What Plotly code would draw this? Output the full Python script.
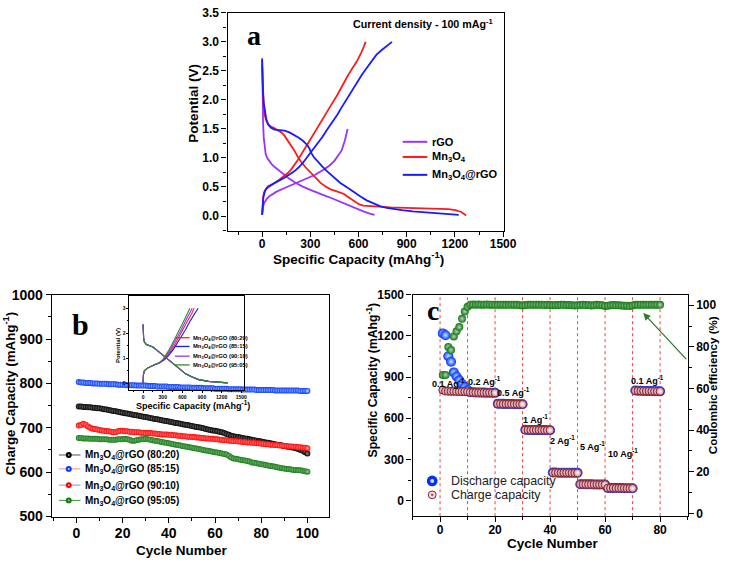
import plotly.graph_objects as go

W, H = 733, 566
def px(x): return x / W
def py(y): return 1 - y / H

FONT = "Liberation Sans, Arial, sans-serif"
SERIF = "Liberation Serif, Times New Roman, serif"

# ---------------- Panel a : voltage profiles ----------------
rgo_dis_cap = [0, 1, 3, 6, 10, 15, 22, 32, 45, 60, 80, 105, 135, 170, 210, 250, 300, 350, 390, 430, 480, 530, 580, 630, 670, 700]
rgo_dis_v = [2.72, 2.3, 1.9, 1.6, 1.35, 1.18, 1.07, 1.0, 0.94, 0.89, 0.84, 0.78, 0.71, 0.64, 0.57, 0.51, 0.45, 0.39, 0.35, 0.31, 0.25, 0.19, 0.13, 0.08, 0.04, 0.02]
rgo_chg_cap = [0, 2, 6, 12, 20, 30, 45, 65, 90, 130, 180, 230, 280, 330, 385, 420, 450, 475, 495, 515, 532]
rgo_chg_v = [0.03, 0.1, 0.17, 0.22, 0.26, 0.3, 0.34, 0.38, 0.42, 0.47, 0.53, 0.58, 0.64, 0.71, 0.8, 0.87, 0.95, 1.04, 1.13, 1.3, 1.5]

mn_dis_cap = [0, 2, 5, 10, 16, 25, 37, 55, 78, 100, 120, 140, 160, 180, 200, 220, 241, 270, 303, 335, 364, 395, 426, 460, 487, 510, 528, 555, 579, 605, 630, 680, 733, 800, 896, 1000, 1101, 1160, 1203, 1240, 1270]
mn_dis_v = [2.6, 2.35, 2.1, 1.88, 1.74, 1.65, 1.58, 1.54, 1.51, 1.48, 1.44, 1.38, 1.3, 1.22, 1.13, 1.03, 0.94, 0.84, 0.74, 0.65, 0.57, 0.51, 0.46, 0.43, 0.41, 0.38, 0.34, 0.29, 0.24, 0.2, 0.18, 0.17, 0.16, 0.15, 0.14, 0.135, 0.13, 0.12, 0.1, 0.07, 0.01]
mn_chg_cap = [0, 3, 7, 12, 20, 37, 55, 78, 105, 139, 160, 180, 200, 221, 250, 282, 313, 344, 375, 405, 436, 467, 497, 528, 558, 589, 615, 635, 645]
mn_chg_v = [0.02, 0.2, 0.33, 0.41, 0.45, 0.49, 0.53, 0.57, 0.62, 0.69, 0.74, 0.8, 0.87, 0.96, 1.09, 1.24, 1.38, 1.52, 1.66, 1.8, 1.94, 2.08, 2.24, 2.39, 2.53, 2.66, 2.8, 2.92, 3.0]

mg_dis_cap = [0, 2, 5, 10, 16, 25, 37, 55, 78, 110, 139, 170, 200, 228, 252, 270, 282, 295, 303, 320, 344, 375, 405, 445, 487, 530, 569, 610, 651, 690, 733, 775, 814, 870, 937, 1020, 1101, 1160, 1224]
mg_dis_v = [2.7, 2.4, 2.15, 1.95, 1.8, 1.68, 1.58, 1.52, 1.49, 1.48, 1.47, 1.44, 1.40, 1.35, 1.30, 1.26, 1.22, 1.16, 1.10, 1.02, 0.94, 0.85, 0.77, 0.67, 0.57, 0.49, 0.41, 0.34, 0.27, 0.22, 0.17, 0.14, 0.12, 0.1, 0.08, 0.065, 0.055, 0.04, 0.02]
mg_chg_cap = [0, 3, 8, 16, 25, 37, 55, 78, 105, 139, 170, 200, 228, 252, 282, 313, 344, 375, 405, 436, 467, 497, 528, 558, 589, 620, 651, 682, 712, 745, 774, 795, 808]
mg_chg_v = [0.02, 0.22, 0.33, 0.41, 0.47, 0.51, 0.54, 0.57, 0.61, 0.66, 0.71, 0.77, 0.84, 0.91, 1.02, 1.13, 1.24, 1.36, 1.49, 1.61, 1.74, 1.88, 2.02, 2.16, 2.30, 2.43, 2.55, 2.67, 2.78, 2.86, 2.92, 2.97, 3.0]

a_names = ["rGO", "Mn<sub>3</sub>O<sub>4</sub>", "Mn<sub>3</sub>O<sub>4</sub>@rGO"]
a_colors = ["#9933ff", "#ff1a1a", "#1a1aff"]

# ---------------- Panel b : cycling ----------------
cycles_b = list(range(1, 101))
cap_80_20 = [748, 748, 747, 747, 746, 746, 745, 745, 744, 744,
             743, 742, 741, 740, 739, 738, 737, 736, 735, 734,
             733, 732, 731, 730, 729, 728, 727, 726, 725, 724,
             723, 722, 721, 720, 719, 718, 717, 716, 715, 714,
             713, 712, 711, 710, 709, 708, 707, 706, 705, 704,
             703, 702, 701, 700, 699, 697, 696, 695, 694, 693,
             692, 691, 690, 688, 686, 684, 682, 681, 680, 679,
             678, 677, 676, 675, 674, 673, 672, 671, 670, 669,
             668, 667, 666, 665, 664, 663, 662, 661, 660, 659,
             658, 657, 656, 655, 654, 652, 650, 648, 645, 642]
cap_85_15 = [803, 802, 802, 801, 801, 801, 800, 800, 800, 799,
             799, 799, 799, 798, 798, 798, 798, 797, 797, 797,
             797, 796, 796, 796, 796, 795, 795, 795, 795, 795,
             794, 794, 794, 794, 793, 793, 793, 793, 793, 792,
             792, 792, 792, 792, 791, 791, 791, 791, 791, 790,
             790, 790, 790, 790, 789, 789, 789, 789, 789, 788,
             788, 788, 788, 788, 788, 787, 787, 787, 787, 787,
             787, 786, 786, 786, 786, 786, 786, 785, 785, 785,
             785, 785, 785, 785, 785, 784, 784, 784, 784, 784,
             784, 784, 784, 784, 784, 784, 783, 783, 783, 783]
cap_90_10 = [705, 706, 709, 707, 703, 700, 698, 697, 696, 695,
             694, 693, 692, 692, 691, 690, 690, 692, 693, 693,
             692, 692, 691, 691, 690, 690, 690, 689, 689, 688,
             688, 688, 687, 687, 686, 686, 685, 685, 685, 684,
             684, 683, 683, 682, 682, 681, 681, 680, 680, 679,
             679, 678, 678, 677, 677, 676, 676, 675, 675, 674,
             674, 673, 673, 672, 672, 671, 671, 670, 670, 669,
             669, 668, 668, 667, 667, 666, 666, 665, 665, 664,
             664, 663, 663, 662, 662, 661, 661, 660, 660, 659,
             659, 658, 658, 657, 657, 656, 656, 655, 655, 654]
cap_95_05 = [677, 677, 676, 676, 676, 675, 675, 675, 675, 674,
             674, 674, 674, 673, 673, 673, 673, 674, 674, 674,
             675, 674, 673, 671, 671, 672, 673, 674, 674, 675,
             674, 673, 672, 671, 670, 669, 668, 667, 666, 665,
             664, 663, 662, 661, 660, 659, 658, 657, 656, 655,
             654, 653, 652, 651, 650, 649, 648, 647, 646, 645,
             644, 643, 642, 641, 640, 637, 633, 631, 630, 629,
             628, 627, 626, 625, 624, 622, 621, 620, 619, 618,
             617, 616, 615, 614, 613, 612, 611, 610, 609, 608,
             607, 607, 606, 605, 605, 604, 604, 603, 602, 601]
b_labels = ["Mn<sub>3</sub>O<sub>4</sub>@rGO (80:20)", "Mn<sub>3</sub>O<sub>4</sub>@rGO (85:15)",
            "Mn<sub>3</sub>O<sub>4</sub>@rGO (90:10)", "Mn<sub>3</sub>O<sub>4</sub>@rGO (95:05)"]

# inset of panel b
ins_chg_v = [0.0, 0.35, 0.5, 0.6, 0.7, 0.82, 0.95, 1.1, 1.35, 1.6, 1.85, 2.15, 2.5, 2.8, 3.0]
ins_chg_cap_80 = [0, 5, 20, 60, 140, 250, 320, 370, 440, 495, 550, 615, 680, 745, 780]
ins_chg_cap_85 = [0, 5, 20, 60, 140, 255, 330, 385, 460, 520, 580, 650, 720, 790, 840]
ins_chg_cap_90 = [0, 5, 20, 60, 140, 245, 310, 355, 420, 470, 525, 585, 650, 710, 750]
ins_chg_cap_95 = [0, 5, 20, 60, 140, 240, 300, 340, 400, 450, 500, 560, 620, 680, 714]
ins_dis_cap = [0, 3, 8, 20, 50, 100, 150, 200, 270, 350, 450, 550, 650, 750, 850, 1000, 1150, 1290]
ins_dis_v = [2.35, 2.0, 1.8, 1.65, 1.55, 1.5, 1.45, 1.35, 1.2, 1.0, 0.78, 0.57, 0.38, 0.25, 0.15, 0.08, 0.04, 0.02]
ins_colors = ["#ff2020", "#1a1aff", "#9933ff", "#2e8b2e"]
ins_labels = ["Mn<sub>3</sub>O<sub>4</sub>@rGO (80:20)", "Mn<sub>3</sub>O<sub>4</sub>@rGO (85:15)",
              "Mn<sub>3</sub>O<sub>4</sub>@rGO (90:10)", "Mn<sub>3</sub>O<sub>4</sub>@rGO (95:05)"]

# ---------------- Panel c : rate capability ----------------
cycles_c = list(range(1, 81))
discharge = [1218, 1205, 1052, 1012, 934, 904, 876, 850, 827, 806,
             790, 789, 788, 788, 787, 787, 786, 786, 786, 785,
             706, 705, 705, 704, 704, 704, 703, 703, 703, 702,
             516, 515, 515, 515, 514, 514, 514, 514, 513, 513,
             205, 205, 204, 204, 204, 204, 203, 203, 203, 203,
             120, 120, 119, 119, 119, 118, 118, 118, 118, 117,
             93, 93, 92, 92, 92, 92, 91, 91, 91, 91,
             802, 800, 800, 799, 799, 798, 798, 797, 797, 796]
charge = [806, 798, 797, 796, 796, 795, 795, 794, 794, 793,
          789, 788, 788, 787, 787, 786, 786, 786, 785, 785,
          705, 705, 704, 704, 704, 703, 703, 703, 702, 702,
          515, 515, 514, 514, 514, 514, 513, 513, 513, 513,
          204, 204, 204, 203, 203, 203, 203, 202, 202, 202,
          119, 119, 119, 118, 118, 118, 118, 117, 117, 117,
          92, 92, 92, 91, 91, 91, 91, 90, 90, 90,
          801, 800, 799, 799, 798, 798, 797, 797, 796, 796]
coulombic = [66.5, 66.5, 80.0, 78.5, 85.0, 87.5, 89.5, 93.5, 97.0, 99.3,
             100.3, 100.4, 100.3, 100.4, 100.3, 100.3, 100.4, 100.3, 100.3, 100.2,
             100.2, 100.3, 100.3, 100.2, 100.2, 100.3, 100.3, 100.2, 100.0, 99.9,
             100.1, 100.2, 100.2, 100.3, 100.3, 100.2, 100.2, 100.1, 100.2, 100.1,
             100.0, 100.1, 100.1, 100.2, 100.2, 100.1, 100.1, 100.0, 99.9, 100.0,
             100.1, 100.2, 100.1, 100.1, 99.9, 100.0, 100.2, 100.1, 100.0, 99.7,
             99.8, 100.0, 100.1, 100.0, 100.0, 99.9, 99.8, 99.8, 99.6, 99.9,
             100.2, 100.2, 100.3, 100.2, 100.2, 100.3, 100.2, 100.2, 100.3, 100.2]
rate_boundaries = [0, 10, 20, 30, 40, 50, 60, 70, 80]
rate_labels = ["0.1 Ag<sup>-1</sup>", "0.2 Ag<sup>-1</sup>", "0.5 Ag<sup>-1</sup>", "1 Ag<sup>-1</sup>",
               "2 Ag<sup>-1</sup>", "5 Ag<sup>-1</sup>", "10 Ag<sup>-1</sup>", "0.1 Ag<sup>-1</sup>"]
rate_label_x = [3.1, 16.3, 26.7, 34.6, 44.6, 55.4, 66.4, 75.4]
rate_label_y = [858, 870, 788, 597, 439, 398, 349, 880]

# ======================================================================
fig = go.Figure()

def lt(x, y, color, xa, ya, width=1.8):
    return go.Scatter(x=x, y=y, mode="lines", line=dict(color=color, width=width),
                      xaxis=xa, yaxis=ya, showlegend=False, hoverinfo="skip")

# panel a
fig.add_trace(lt(rgo_dis_cap, rgo_dis_v, a_colors[0], "x", "y"))
fig.add_trace(lt(rgo_chg_cap, rgo_chg_v, a_colors[0], "x", "y"))
fig.add_trace(lt(mn_dis_cap, mn_dis_v, a_colors[1], "x", "y"))
fig.add_trace(lt(mn_chg_cap, mn_chg_v, a_colors[1], "x", "y"))
fig.add_trace(lt(mg_dis_cap, mg_dis_v, a_colors[2], "x", "y"))
fig.add_trace(lt(mg_chg_cap, mg_chg_v, a_colors[2], "x", "y"))

# inset
ins_caps = [ins_chg_cap_80, ins_chg_cap_85, ins_chg_cap_90, ins_chg_cap_95]
for caps, col in zip(ins_caps, ins_colors):
    fig.add_trace(lt(caps, ins_chg_v, col, "x5", "y5", width=1.1))
    fig.add_trace(lt(ins_dis_cap, ins_dis_v, col, "x5", "y5", width=1.1))

# panel b
b_series = [cap_80_20, cap_85_15, cap_90_10, cap_95_05]
b_edge = ["#000000", "#1030ff", "#ff0000", "#157a15"]
b_center = ["#8a8a8a", "#a8f4ff", "#ffb0b0", "#9cc89c"]
for ser, ec, cc in zip(b_series, b_edge, b_center):
    fig.add_trace(go.Scatter(x=cycles_b, y=ser, mode="lines+markers", xaxis="x2", yaxis="y2",
                             line=dict(color=ec, width=1),
                             marker=dict(size=6, color=ec, gradient=dict(type="radial", color=cc)),
                             showlegend=False, hoverinfo="skip"))

# panel c
fig.add_trace(go.Scatter(x=cycles_c, y=discharge, mode="markers", xaxis="x3", yaxis="y3",
                         marker=dict(size=10, color="#0a2cff", gradient=dict(type="radial", color="#b8f6ff")),
                         showlegend=False, hoverinfo="skip"))
fig.add_trace(go.Scatter(x=cycles_c, y=charge, mode="markers", xaxis="x3", yaxis="y3",
                         marker=dict(size=8, color="#c98890", gradient=dict(type="radial", color="#ffffff"),
                                     line=dict(color="#86202e", width=1)),
                         showlegend=False, hoverinfo="skip"))
fig.add_trace(go.Scatter(x=cycles_c, y=coulombic, mode="markers", xaxis="x3", yaxis="y4",
                         marker=dict(size=8, color="#0b7a0b", gradient=dict(type="radial", color="#c4ccc4")),
                         showlegend=False, hoverinfo="skip"))

# ---------------- axes ----------------
def axis(domain, rng, dtick, minor, size, anchor, fmt=None, lw=1.3, tl=5, mirror=True, **kw):
    d = dict(range=rng, anchor=anchor, tickmode="linear", tick0=0, dtick=dtick,
             ticks="outside", ticklen=tl, tickwidth=lw, tickcolor="black",
             showline=True, linecolor="black", linewidth=lw, mirror=mirror,
             showgrid=False, zeroline=False,
             tickfont=dict(family=FONT, size=size, color="black", weight="bold"),
             minor=dict(dtick=minor, ticks="outside", ticklen=max(1, tl * 0.6), tickwidth=lw,
                        tickcolor="black", showgrid=False))
    if domain is not None:
        d["domain"] = domain
    if fmt:
        d["tickformat"] = fmt
    d.update(kw)
    return d

fig.update_layout(
    xaxis=axis([px(231.7), px(513)], [-215, 1505], 300, 150, 12, "y", ticklabelstandoff=-3),
    yaxis=axis([py(229), py(5)], [-0.25, 3.5], 0.5, 0.25, 12, "x", fmt=".1f"),
    xaxis2=axis([px(52.7), px(335)], [-10.7, 109.4], 20, 10, 14, "y2", ticklabelstandoff=-1),
    yaxis2=axis([py(523.3), py(295)], [500, 1000], 100, 50, 14, "x2"),
    xaxis3=axis([px(420), px(700)], [-10, 90], 20, 10, 12, "y3", ticklabelstandoff=-3),
    yaxis3=axis([py(523), py(295)], [-113, 1500], 300, 150, 12, "x3"),
    yaxis4=axis(None, [-1.4, 105.1], 20, 10, 12, "x3", mirror=False, side="right", overlaying="y3"),
    xaxis5=axis([px(131.7), px(248.3)], [-210, 1540], 300, 150, 5, "y5", lw=0.8, tl=2),
    yaxis5=axis([py(393.5), py(296.7)], [-0.28, 3.48], 1, 0.5, 5, "x5", lw=0.8, tl=2),
)

# ---------------- shapes ----------------
shapes = []
for xb in rate_boundaries:
    shapes.append(dict(type="line", xref="x3", yref="y3 domain", x0=xb, x1=xb, y0=0, y1=1,
                       line=dict(color="#ff3b3b", width=1, dash="dot"), layer="below"))

a_rows = [137.7, 153.3, 171.7]
for col, yy in zip(a_colors, a_rows):
    shapes.append(dict(type="line", xref="paper", yref="paper", x0=px(410), x1=px(435), y0=py(yy), y1=py(yy),
                       line=dict(color=col, width=2)))
b_rows = [460, 474.3, 491, 506.7]
b_leg_line = ["#555555", "#ff8a8a", "#8c8cff", "#3c963c"]
for lc, mc, cc, yy in zip(b_leg_line, b_edge, b_center, b_rows):
    shapes.append(dict(type="line", xref="paper", yref="paper", x0=px(60), x1=px(82), y0=py(yy), y1=py(yy),
                       line=dict(color=lc, width=1)))
    shapes.append(dict(type="circle", xref="paper", yref="paper", x0=px(67), x1=px(73), y0=py(yy + 3), y1=py(yy - 3),
                       fillcolor=mc, line=dict(width=0)))
    shapes.append(dict(type="circle", xref="paper", yref="paper", x0=px(69), x1=px(71), y0=py(yy + 1), y1=py(yy - 1),
                       fillcolor=cc, line=dict(width=0)))
i_rows = [339.3, 348.3, 358.3, 367.3]
for col, yy in zip(ins_colors, i_rows):
    shapes.append(dict(type="line", xref="paper", yref="paper", x0=px(178), x1=px(193), y0=py(yy), y1=py(yy),
                       line=dict(color=col, width=1.3)))
shapes.append(dict(type="circle", xref="paper", yref="paper", x0=px(434.5), x1=px(445.5), y0=py(492.2), y1=py(481.2),
                   fillcolor="#0a2cff", line=dict(width=0)))
shapes.append(dict(type="circle", xref="paper", yref="paper", x0=px(438), x1=px(442), y0=py(488.7), y1=py(484.7),
                   fillcolor="#b8f6ff", line=dict(width=0)))
shapes.append(dict(type="circle", xref="paper", yref="paper", x0=px(436), x1=px(444), y0=py(505), y1=py(497),
                   fillcolor="#f2e2e4", line=dict(color="#86202e", width=1)))
shapes.append(dict(type="circle", xref="paper", yref="paper", x0=px(438.5), x1=px(441.5), y0=py(502.5), y1=py(499.5),
                   fillcolor="#b0606a", line=dict(width=0)))
fig.update_layout(shapes=shapes)

# ---------------- annotations ----------------
ann = []
def txt(x, y, text, size, bold=True, angle=0, xanchor="center", family=FONT, color="black"):
    t = "<b>%s</b>" % text if bold else text
    return dict(x=px(x), y=py(y), xref="paper", yref="paper", text=t, showarrow=False,
                xanchor=xanchor, yanchor="middle", textangle=angle,
                font=dict(family=family, size=size, color=color))

ann.append(txt(365, 257.5, "Specific Capacity (mAhg<sup>-1</sup>)", 13.5))
ann.append(txt(197, 98, "Potential (V)", 13.5, angle=-90))
ann.append(txt(10, 396.7, "Charge Capacity (mAhg<sup>-1</sup>)", 13.3, angle=-90))
ann.append(txt(185, 558.3, "Cycle Number", 13.5))
ann.append(txt(563.3, 551.5, "Cycle Number", 13.5))
ann.append(txt(379, 383, "Specific Capacity (mAhg<sup>-1</sup>)", 12.2, angle=-90))
ann.append(txt(725, 388, "Coulombic efficiency (%)", 11.6, angle=-90))
ann.append(txt(196.7, 408.3, "Specific Capacity (mAhg<sup>-1</sup>)", 9))
ann.append(txt(120, 347, "Potential (V)", 6, angle=-90))

ann.append(txt(258.5, 28.5, "a", 28, family=SERIF))
ann.append(txt(81.5, 326, "b", 30, family=SERIF))
ann.append(txt(441, 311.5, "c", 28, family=SERIF))
ann.append(txt(431, 15.5, "Current density - 100 mAg<sup>-1</sup>", 10.7))

for name, yy in zip(a_names, a_rows):
    ann.append(txt(438, yy + 0.5, name, 11, xanchor="left"))
for name, yy in zip(b_labels, b_rows):
    ann.append(txt(84, yy + 0.5, name, 10, xanchor="left"))
for name, yy in zip(ins_labels, i_rows):
    ann.append(txt(194, yy + 0.3, name, 5.8, xanchor="left"))
ann.append(txt(456.7, 487.2, "Discharge capacity", 12.4, bold=False, xanchor="left", color="#222222"))
ann.append(txt(456.7, 501.5, "Charge capacity", 12.4, bold=False, xanchor="left", color="#222222"))

for lab, xx, yy in zip(rate_labels, rate_label_x, rate_label_y):
    ann.append(dict(x=xx, y=yy, xref="x3", yref="y3", text="<b>%s</b>" % lab, showarrow=False,
                    xanchor="center", yanchor="middle", font=dict(family=FONT, size=9, color="black")))

ann.append(dict(x=73.9, y=96.3, xref="x3", yref="y4", ax=90.0, ay=73.4, axref="x3", ayref="y4",
                text="", showarrow=True, arrowhead=2, arrowsize=1.1, arrowwidth=1.3, arrowcolor="#2e7d2e"))

fig.update_layout(annotations=ann)

fig.update_layout(width=W, height=H, autosize=False, margin=dict(l=0, r=0, t=0, b=0, pad=0),
                  paper_bgcolor="white", plot_bgcolor="rgba(0,0,0,0)", showlegend=False)

fig.write_html("out.html", config={"displayModeBar": False},
               post_script="document.body.style.margin='0px';document.body.style.overflow='hidden';")
